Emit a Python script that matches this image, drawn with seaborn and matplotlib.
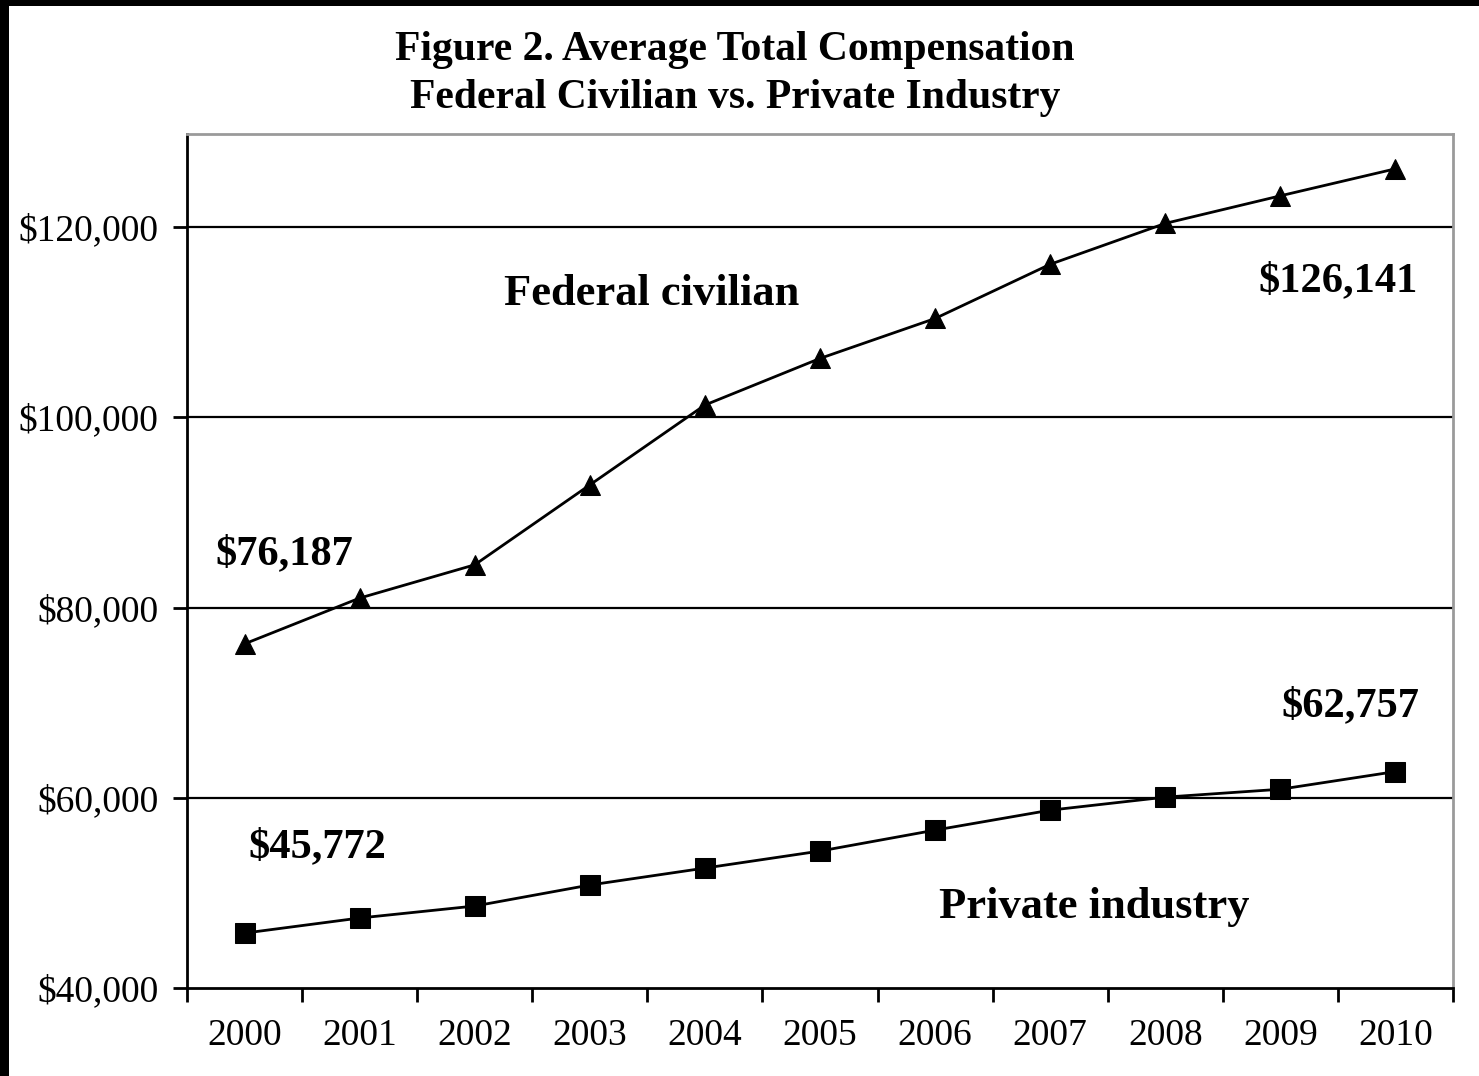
import matplotlib
matplotlib.use("Agg")
import matplotlib.pyplot as plt
from matplotlib.patches import Rectangle
from matplotlib.ticker import FuncFormatter, MultipleLocator
import seaborn as sns
import pandas as pd

years = [2000, 2001, 2002, 2003, 2004, 2005, 2006, 2007, 2008, 2009, 2010]
federal = [76187, 81000, 84500, 92900, 101300, 106200, 110400, 116100, 120400, 123300, 126141]
private = [45772, 47360, 48620, 50830, 52610, 54400, 56600, 58700, 60070, 60900, 62757]
y_ticks = [40000, 60000, 80000, 100000, 120000]

df = pd.DataFrame({
    "year": years * 2,
    "comp": federal + private,
    "sector": ["Federal civilian"] * len(years) + ["Private industry"] * len(years),
})

sns.set_theme(style="white")
plt.rcParams["font.family"] = ["Liberation Serif", "DejaVu Serif"]
plt.rcParams["text.color"] = "black"
plt.rcParams["xtick.color"] = "black"
plt.rcParams["ytick.color"] = "black"

fig = plt.figure(figsize=(14.79, 10.76), dpi=100)
ax = fig.add_axes([187 / 1479, 88 / 1076, (1453 - 187) / 1479, (988 - 134) / 1076])

sns.lineplot(data=df[df.sector == "Federal civilian"], x="year", y="comp", ax=ax,
             color="black", linewidth=2.0, marker="^", markersize=14,
             markeredgecolor="black", markerfacecolor="black")
sns.lineplot(data=df[df.sector == "Private industry"], x="year", y="comp", ax=ax,
             color="black", linewidth=2.0, marker="s", markersize=14,
             markeredgecolor="black", markerfacecolor="black")

ax.set_xlim(years[0] - 0.5, years[-1] + 0.5)
ax.set_ylim(40000, 129800)
ax.set_xlabel("")
ax.set_ylabel("")

# horizontal reference lines
for v in y_ticks[1:]:
    ax.axhline(v, color="black", linewidth=1.6, zorder=1)

ax.set_xticks(years)
ax.set_xticklabels([str(y) for y in years])
ax.xaxis.set_minor_locator(MultipleLocator(1, offset=0.5))
ax.set_yticks(y_ticks)
ax.yaxis.set_major_formatter(FuncFormatter(lambda v, p: f"${v:,.0f}"))

ax.tick_params(axis="x", which="major", length=0, pad=22, labelsize=27, labelcolor="black")
ax.tick_params(axis="x", which="minor", length=10, width=2, color="black", direction="out", bottom=True)
ax.tick_params(axis="y", which="major", length=10, width=2, color="black", direction="out",
               left=True, pad=10.5, labelsize=27, labelcolor="black")

for side in ["left", "bottom"]:
    ax.spines[side].set_color("black")
    ax.spines[side].set_linewidth(2)
for side in ["top", "right"]:
    ax.spines[side].set_color("#9a9a9a")
    ax.spines[side].set_linewidth(2)

bold = dict(fontweight="bold", color="black", ha="center", va="center")
ax.annotate(f"${federal[0]:,}", xy=(years[0], federal[0]), xytext=(40, 90),
            textcoords="offset pixels", fontsize=30.5, **bold)
ax.annotate(f"${federal[-1]:,}", xy=(years[-1], federal[-1]), xytext=(-57, -112),
            textcoords="offset pixels", fontsize=30.5, **bold)
ax.annotate(f"${private[0]:,}", xy=(years[0], private[0]), xytext=(73, 86),
            textcoords="offset pixels", fontsize=30.5, **bold)
ax.annotate(f"${private[-1]:,}", xy=(years[-1], private[-1]), xytext=(-45, 65),
            textcoords="offset pixels", fontsize=30.5, **bold)
ax.text(2003.54, 113000, "Federal civilian", fontsize=32, **bold)
ax.text(2007.38, 48500, "Private industry", fontsize=32, **bold)

fig.text(735 / 1479, 1 - 50 / 1076, "Figure 2. Average Total Compensation",
         fontsize=30, fontweight="bold", ha="center", va="center", color="black")
fig.text(735 / 1479, 1 - 98 / 1076, "Federal Civilian vs. Private Industry",
         fontsize=30, fontweight="bold", ha="center", va="center", color="black")

# dark frame along the top and left edges
fig.patches.append(Rectangle((0, 0), 9 / 1479, 1, transform=fig.transFigure,
                             facecolor="black", edgecolor="none", zorder=10))
fig.patches.append(Rectangle((0, 1 - 6 / 1076), 1, 6 / 1076, transform=fig.transFigure,
                             facecolor="black", edgecolor="none", zorder=10))

fig.savefig("out.png", dpi=100, facecolor="white")
